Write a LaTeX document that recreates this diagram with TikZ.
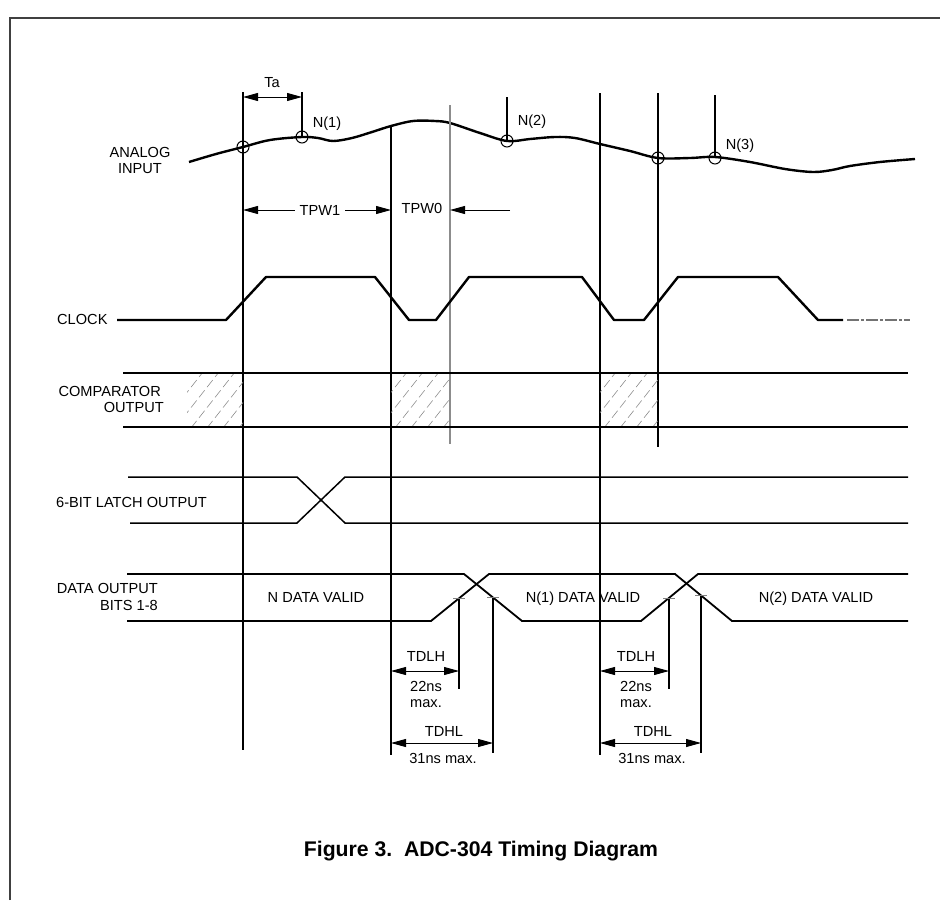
\documentclass[tikz,border=0pt]{standalone}
\usepackage{fontspec}
\setmainfont{Liberation Sans}
\usetikzlibrary{arrows.meta}
\begin{document}
\begin{tikzpicture}[x=1pt,y=-1pt,
  lbl/.style={font=\fontsize{14.6}{17}\selectfont, inner sep=0pt, text height=10.4pt, text depth=0pt},
  vline/.style={line width=1.1pt, black},
  gline/.style={line width=1.1pt, black!45},
  sig/.style={line width=1.5pt, black},
  datasig/.style={line width=1.8pt, black},
  heavy/.style={line width=2.4pt, black, line join=round},
  samp/.style={line width=1pt, black},
  tickm/.style={line width=0.8pt, black!50},
  hatchln/.style={black!45, line width=0.6pt, dash pattern=on 9pt off 4pt},
  dimarr/.style={line width=0.9pt, {Triangle[length=15pt,width=8pt]}-{Triangle[length=15pt,width=8pt]}},
  onearr/.style={line width=0.9pt, -{Triangle[length=15pt,width=8pt]}}
]
\useasboundingbox (0,0) rectangle (940,900);
% frame
\draw[line width=1.8pt, black!75] (10,900) -- (10,18) -- (940,18);

% ---------------- analog input ----------------
\draw[heavy] plot[smooth, tension=0.55] coordinates {
 (189,162) (216,154) (243,147) (270,140) (302,137) (318,138) (333,141) (352,138)
 (372,132) (391,126) (413,121) (435,121) (450,123) (480,133) (507,141) (530,139)
 (555,137) (575,138) (600,144) (630,151) (658,158) (690,158) (715,157) (750,162)
 (785,169) (813,172) (832,170) (850,166) (880,162) (915,159)};
\foreach \p/\n in {243/147,302/137,507/141,658/158,715/158}
  \draw[samp] (\p,\n) circle (6);
\node[lbl] (analog1) at (140,152) {ANALOG};
\node[lbl] (analog2) at (140,168) {INPUT};
\node[lbl] (n1) at (327,122) {N(1)};
\node[lbl] (n2) at (532,120) {N(2)};
\node[lbl] (n3) at (740,144) {N(3)};

% ---------------- vertical reference lines ----------------
\coordinate (v1t) at (243,92);  \coordinate (v1b) at (243,750);
\coordinate (tat) at (302,92);  \coordinate (tab) at (302,137);
\coordinate (v2t) at (391,126); \coordinate (v2b) at (391,755);
\coordinate (v3t) at (450,105); \coordinate (v3b) at (450,444);
\coordinate (v4t) at (507,97);  \coordinate (v4b) at (507,141);
\coordinate (v5t) at (600,93);  \coordinate (v5b) at (600,755);
\coordinate (v6t) at (658,93);  \coordinate (v6b) at (658,447);
\coordinate (v7t) at (715,95);  \coordinate (v7b) at (715,158);
\draw[vline] (v1t) -- (v1b);
\draw[vline] (tat) -- (tab);
\draw[vline] (v2t) -- (v2b);
\draw[gline] (v3t) -- (v3b);
\draw[vline] (v4t) -- (v4b);
\draw[vline] (v5t) -- (v5b);
\draw[vline] (v6t) -- (v6b);
\draw[vline] (v7t) -- (v7b);

% Ta
\draw[dimarr] (243,97) -- (302,97);
\node[lbl] (ta) at (272,82) {Ta};

% TPW1 / TPW0
\node[lbl] (tpw1) at (320,210) {TPW1};
\node[lbl] (tpw0) at (422,208) {TPW0};
\draw[onearr] (tpw1.west) ++(-5,0) -- (243,210);
\draw[onearr] (tpw1.east) ++(5,0) -- (391,210);
\draw[onearr] (510,210) -- (450,210);

% ---------------- clock ----------------
\node[lbl, anchor=west] (clk) at (57,319) {CLOCK};
\draw[heavy] (117,320) -- (226,320) -- (266,277) -- (375,277) -- (409,320) -- (436,320)
  -- (469,277) -- (582,277) -- (614,320) -- (644,320) -- (678,277) -- (778,277)
  -- (818,320) -- (843,320);
\draw[line width=1.3pt, black!55, dash pattern=on 12pt off 2pt on 3pt off 2pt] (847,320) -- (910,320);

% ---------------- comparator ----------------
\node[lbl, anchor=east] (cmp1) at (161,391) {COMPARATOR};
\node[lbl, anchor=east] (cmp2) at (164,407) {OUTPUT};
\foreach \a/\b in {187/243,391/450,600/658}{
  \begin{scope}
    \clip (\a,374) rectangle (\b,426);
    \foreach \x in {-60,-44,...,80}
      \draw[hatchln] ({\a+\x},428) -- ({\a+\x+44},372);
  \end{scope}}
\draw[sig] (123,373) -- (908,373);
\draw[sig] (123,427) -- (908,427);

% ---------------- latch ----------------
\node[lbl, anchor=west] (latch) at (56,502) {6-BIT LATCH OUTPUT};
\draw[sig] (128,477) -- (297,477) -- (345,523) -- (908,523);
\draw[sig] (130,523) -- (297,523) -- (345,477) -- (908,477);

% ---------------- data output ----------------
\node[lbl, anchor=east] (dat1) at (158,588) {DATA OUTPUT};
\node[lbl, anchor=east] (dat2) at (158,605) {BITS 1-8};
\draw[datasig] (127,574) -- (464,574) -- (522,621) -- (641,621) -- (698,574) -- (908,574);
\draw[datasig] (127,621) -- (431,621) -- (489,574) -- (675,574) -- (732,621) -- (908,621);
\node[lbl] (dv0) at (316,597) {N DATA VALID};
\node[lbl] (dv1) at (583,597) {N(1) DATA VALID};
\node[lbl] (dv2) at (816,597) {N(2) DATA VALID};

% ---------------- timing marks ----------------
\foreach \xa/\ya/\xb/\yb/\l in {459/598/459/689/a, 493/597/493/753/b, 669/598/669/689/c, 701/595/701/753/d}{
  \coordinate (t\l t) at (\xa,\ya);
  \coordinate (t\l b) at (\xb,\yb);
  \draw[vline] (t\l t) -- (t\l b);
  \draw[tickm] ({\xa-6},\ya) -- ({\xa+6},\ya);
}
% first group
\draw[dimarr] (391,671) -- (459,671);
\node[lbl] (tdlh1) at (426,656) {TDLH};
\node[lbl, anchor=west] (ns22a) at (410,686) {22ns};
\node[lbl, anchor=west] (maxa) at (410,702) {max.};
\draw[dimarr] (391,743) -- (493,743);
\node[lbl] (tdhl1) at (444,731) {TDHL};
\node[lbl] (ns31a) at (443,758) {31ns max.};
% second group
\draw[dimarr] (600,671) -- (669,671);
\node[lbl] (tdlh2) at (636,656) {TDLH};
\node[lbl, anchor=west] (ns22b) at (620,686) {22ns};
\node[lbl, anchor=west] (maxb) at (620,702) {max.};
\draw[dimarr] (600,743) -- (701,743);
\node[lbl] (tdhl2) at (653,731) {TDHL};
\node[lbl] (ns31b) at (652,758) {31ns max.};

% caption
\node[font=\fontsize{21.2}{24}\selectfont\bfseries, inner sep=0pt] (cap) at (481,851) {Figure 3.\ \ ADC-304 Timing Diagram};
\end{tikzpicture}
\end{document}
